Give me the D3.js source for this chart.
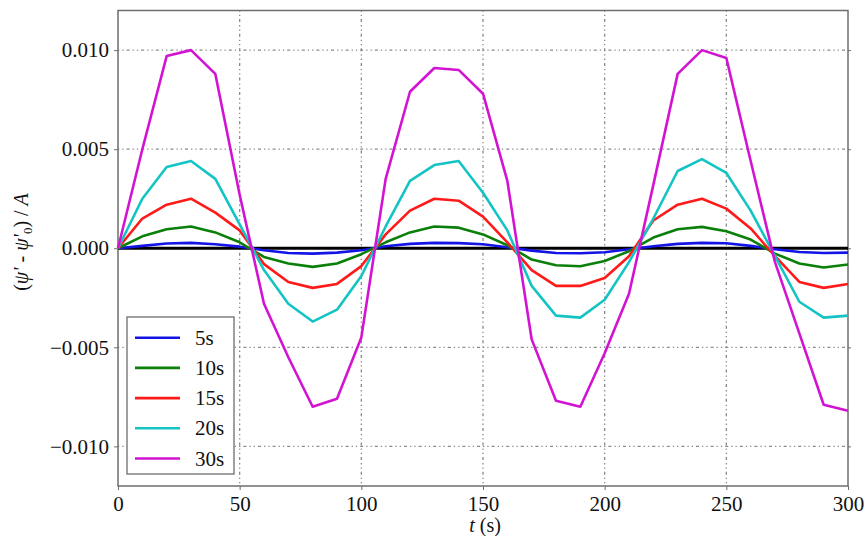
<!DOCTYPE html>
<html><head><meta charset="utf-8">
<script src="https://cdn.jsdelivr.net/npm/d3@7/dist/d3.min.js"></script>
<style>body{margin:0;background:#fff}svg{display:block}</style>
</head><body><svg id="c" width="865" height="536" font-family="Liberation Serif, serif"></svg>
<script>
const times = d3.range(0, 301, 10);
const seriesNames = ["5s", "10s", "15s", "20s", "30s"];
const seriesColors = ["#1414e6", "#0a800a", "#ff1a1a", "#14c4c4", "#d214d2"];
const s5 = [0,0.00012,0.00024,0.00027,0.0002,0.00008,-0.0001,-0.00024,-0.00027,-0.00022,-0.0001,0.0001,0.00022,0.00027,0.00026,0.0002,0.00005,-0.00012,-0.00024,-0.00025,-0.0002,-0.00005,0.0001,0.00022,0.00027,0.00025,0.00012,-0.00005,-0.00019,-0.00024,-0.00022];
const s10 = [0,0.0006,0.00096,0.0011,0.0008,0.0003,-0.00044,-0.00077,-0.00094,-0.00077,-0.0003,0.0003,0.0008,0.0011,0.00104,0.0007,0.00015,-0.00057,-0.00086,-0.00091,-0.00064,-0.00015,0.00054,0.00096,0.00108,0.00086,0.00044,-0.00027,-0.00077,-0.00097,-0.00082];
const s15 = [0,0.0015,0.0022,0.0025,0.0018,0.0009,-0.0008,-0.0017,-0.002,-0.0018,-0.0009,0.0007,0.0019,0.0025,0.0024,0.0016,0.0003,-0.0011,-0.0019,-0.0019,-0.0015,-0.0004,0.0014,0.0022,0.0025,0.002,0.001,-0.0004,-0.0017,-0.002,-0.0018];
const s20 = [0,0.0025,0.0041,0.0044,0.0035,0.0012,-0.0011,-0.0028,-0.0037,-0.0031,-0.0014,0.0011,0.0034,0.0042,0.0044,0.0028,0.0009,-0.0019,-0.0034,-0.0035,-0.0026,-0.0007,0.0015,0.0039,0.0045,0.0038,0.0019,-0.0004,-0.0027,-0.0035,-0.0034];
const s30 = [0,0.005,0.0097,0.01,0.0088,0.0027,-0.0028,-0.0055,-0.008,-0.0076,-0.0045,0.0035,0.0079,0.0091,0.009,0.0078,0.0034,-0.0046,-0.0077,-0.008,-0.0053,-0.0023,0.0032,0.0088,0.01,0.0096,0.0044,-0.0007,-0.0043,-0.0079,-0.0082];
const seriesValues = [s5, s10, s15, s20, s30];
const xTicks = [0, 50, 100, 150, 200, 250, 300];
const yTicks = [-0.010, -0.005, 0.000, 0.005, 0.010];

const FONT = "Liberation Serif, serif";
const svg = d3.select("#c");
const L = 118, R = 848, T = 10.5, B = 486;
const x = d3.scaleLinear().domain([0, 300]).range([L, R]);
const y = d3.scaleLinear().domain([-0.012, 0.012]).range([B, T]);
const fmt = v => (v < 0 ? "\u2212" : "") + Math.abs(v).toFixed(3);

// grid
const grid = svg.append("g").attr("stroke", "#8a8a8a").attr("stroke-width", 1.3)
  .attr("stroke-dasharray", "1.3,3,1.3,3,3,3");
grid.selectAll("line.v").data(xTicks.slice(1, -1)).join("line")
  .attr("x1", d => x(d)).attr("x2", d => x(d)).attr("y1", T).attr("y2", B);
grid.selectAll("line.h").data(yTicks.filter(d => d !== 0)).join("line")
  .attr("x1", L).attr("x2", R).attr("y1", d => y(d)).attr("y2", d => y(d));

// frame
svg.append("rect").attr("x", L).attr("y", T).attr("width", R - L).attr("height", B - T)
  .attr("fill", "none").attr("stroke", "#6e6e6e").attr("stroke-width", 1.5);

// axes
const xAxis = svg.append("g").attr("transform", `translate(0,${B})`)
  .call(d3.axisBottom(x).tickValues(xTicks).tickSize(4).tickPadding(6).tickFormat(d3.format("d")));
const yAxis = svg.append("g").attr("transform", `translate(${L},0)`)
  .call(d3.axisLeft(y).tickValues(yTicks).tickSize(4).tickPadding(5).tickFormat(fmt));
const yAxisR = svg.append("g").attr("transform", `translate(${R},0)`)
  .call(d3.axisRight(y).tickValues(yTicks).tickSize(3).tickFormat(""));
[xAxis, yAxis, yAxisR].forEach(g => {
  g.attr("font-family", FONT);
  g.select(".domain").remove();
  g.selectAll(".tick line").attr("stroke", "#6e6e6e");
  g.selectAll("text").attr("font-family", FONT).attr("font-size", 21).attr("fill", "#111");
});
xAxis.selectAll("text").attr("dy", "0.71em").attr("y", 10);

// zero line
svg.append("line").attr("x1", L).attr("x2", R).attr("y1", y(0)).attr("y2", y(0))
  .attr("stroke", "#000").attr("stroke-width", 3);

// series
const line = d3.line().x((d, i) => x(times[i])).y(d => y(d));
svg.append("g").selectAll("path").data(seriesValues).join("path")
  .attr("d", d => line(d)).attr("fill", "none")
  .attr("stroke", (d, i) => seriesColors[i]).attr("stroke-width", 2.6)
  .attr("stroke-linejoin", "round");

// legend
const lg = svg.append("g");
lg.append("rect").attr("x", 127).attr("y", 317).attr("width", 107).attr("height", 157)
  .attr("fill", "#fff").attr("stroke", "#6e6e6e").attr("stroke-width", 1.3);
seriesNames.forEach((n, i) => {
  const yy = 337.7 + i * 30.2;
  lg.append("line").attr("x1", 135).attr("x2", 180).attr("y1", yy).attr("y2", yy)
    .attr("stroke", seriesColors[i]).attr("stroke-width", 2.6);
  lg.append("text").attr("x", 195).attr("y", yy + 7).attr("font-family", FONT)
    .attr("font-size", 21).attr("fill", "#111").text(n);
});

// x label
const xl = svg.append("text").attr("x", 485).attr("y", 532).attr("text-anchor", "middle")
  .attr("font-family", FONT).attr("font-size", 20).attr("fill", "#111");
xl.append("tspan").attr("font-style", "italic").text("t");
xl.append("tspan").text(" (s)");

// y label
const yl = svg.append("text").attr("transform", "translate(28,242) rotate(-90)")
  .attr("text-anchor", "middle").attr("font-family", FONT).attr("font-size", 20).attr("fill", "#111");
yl.append("tspan").text("(");
yl.append("tspan").attr("font-style", "italic").text("ψ'");
yl.append("tspan").text(" - ");
yl.append("tspan").attr("font-style", "italic").text("ψ'");
yl.append("tspan").attr("font-size", 13).attr("dy", 4).text("0");
yl.append("tspan").attr("dy", -4).text(") / ");
yl.append("tspan").attr("font-style", "italic").text("A");
</script></body></html>
